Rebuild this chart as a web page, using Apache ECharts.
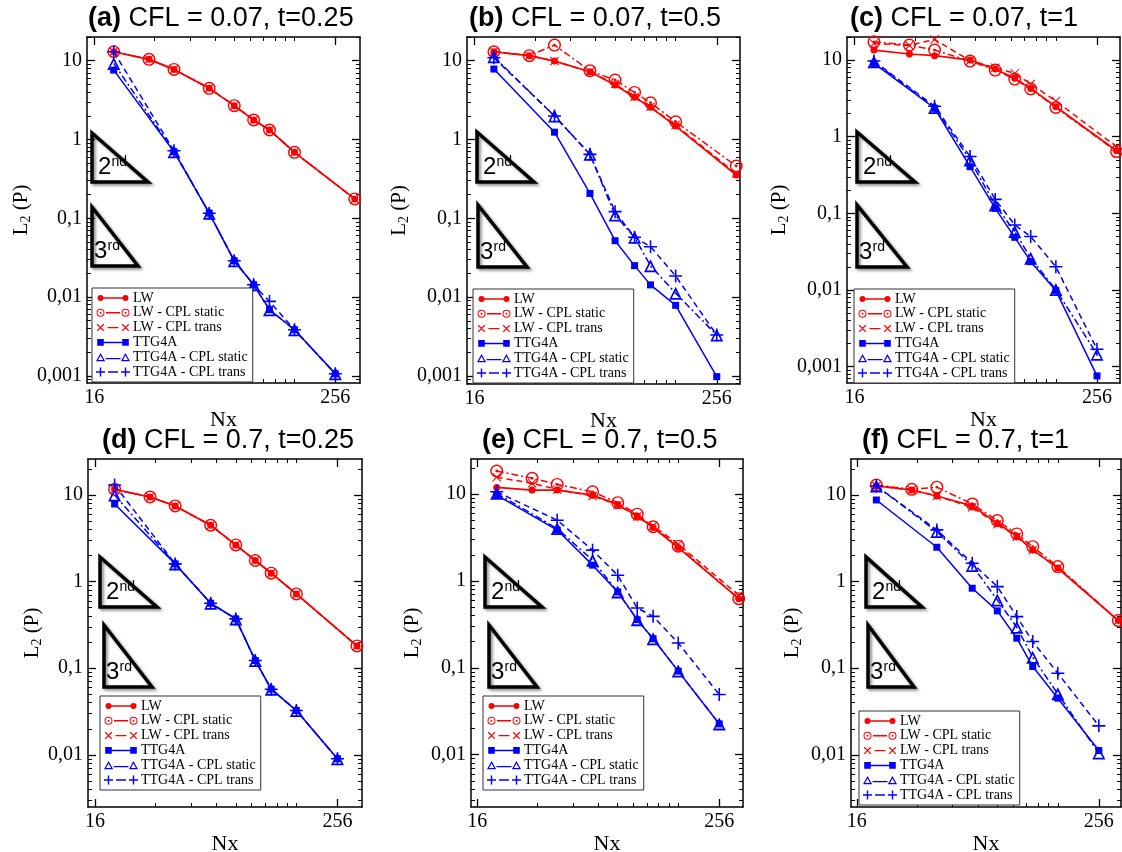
<!DOCTYPE html>
<html><head><meta charset="utf-8">
<script src="https://cdn.jsdelivr.net/npm/echarts@6/dist/echarts.min.js"></script>
<style>html,body{margin:0;padding:0;background:#fff}#c{width:1122px;height:852px}</style>
</head><body><div id="c"></div>
<script>
// ---------------- DATA ----------------
const NX_LW  = [20, 30, 40, 60, 80, 100, 120, 160, 320];
const NX_TTG = [20, 40, 60, 80, 100, 120, 160, 256];
const SERIES_NAMES = ['LW', 'LW - CPL static', 'LW - CPL trans', 'TTG4A', 'TTG4A - CPL static', 'TTG4A - CPL trans'];
const PANEL_TAGS = ['(a)', '(b)', '(c)', '(d)', '(e)', '(f)'];
const PANEL_TITLES = ['CFL = 0.07, t=0.25', 'CFL = 0.07, t=0.5', 'CFL = 0.07, t=1',
                      'CFL = 0.7, t=0.25', 'CFL = 0.7, t=0.5', 'CFL = 0.7, t=1'];
const X_TICKS = [16, 256];
const X_MINOR_TICKS = [32, 48, 64, 80, 96, 112, 128, 144, 160];
const Y_TICKS = [0.001, 0.01, 0.1, 1, 10];
const Y_TICK_LABELS = ['0,001', '0,01', '0,1', '1', '10'];
const Y_MINOR_TICKS = [0.0002,0.0003,0.0004,0.0005,0.0006,0.0007,0.0008,0.0009,
  0.002,0.003,0.004,0.005,0.006,0.007,0.008,0.009,
  0.02,0.03,0.04,0.05,0.06,0.07,0.08,0.09,
  0.2,0.3,0.4,0.5,0.6,0.7,0.8,0.9,
  2,3,4,5,6,7,8,9, 20,30];
const X_MIN = [14.7, 14.7, 14.7, 14.75, 14.9, 14.96];
const X_MAX = [340, 334, 333, 339, 336, 330];
const Y_MIN = [0.00081, 0.00079, 0.00061, 0.0025, 0.0025, 0.0025];
const Y_MAX = [20, 20, 20, 26, 25.3, 26];

// panel (a) CFL=0.07 t=0.25
const a_LW    = [13.0, 10.4, 7.76, 4.46, 2.69, 1.77, 1.32, 0.687, 0.176];
const a_LWs   = [13.0, 10.4, 7.76, 4.46, 2.69, 1.77, 1.32, 0.687, 0.176];
const a_LWt   = [13.0, 10.4, 7.76, 4.46, 2.69, 1.77, 1.32, 0.687, 0.176];
const a_TTG   = [7.6, 0.70, 0.116, 0.0288, 0.0143, 0.0069, 0.00384, 0.00106];
const a_TTGs  = [9.25, 0.70, 0.116, 0.0288, 0.0143, 0.0069, 0.00384, 0.00106];
const a_TTGt  = [13.0, 0.72, 0.116, 0.0288, 0.0143, 0.0088, 0.00384, 0.00106];
// panel (b) CFL=0.07 t=0.5
const b_LW    = [13.0, 11.6, 9.9, 7.25, 4.91, 3.43, 2.56, 1.48, 0.355];
const b_LWs   = [13.0, 11.6, 15.8, 7.47, 5.69, 3.96, 2.93, 1.68, 0.461];
const b_LWt   = [13.0, 11.6, 9.9, 7.25, 5.06, 3.49, 2.6, 1.53, 0.37];
const b_TTG   = [7.84, 1.24, 0.207, 0.052, 0.0251, 0.0143, 0.00787, 0.00098];
const b_TTGs  = [11.2, 1.99, 0.648, 0.110, 0.0574, 0.025, 0.0112, 0.0033];
const b_TTGt  = [10.9, 1.99, 0.648, 0.1216, 0.0574, 0.0437, 0.0185, 0.0033];
// panel (c) CFL=0.07 t=1
const c_LW    = [13.5, 12.0, 11.4, 10.0, 7.63, 5.77, 4.27, 2.46, 0.656];
const c_LWs   = [17.3, 15.7, 13.5, 9.7, 7.4, 5.65, 4.2, 2.41, 0.64];
const c_LWt   = [16.5, 15.5, 18.6, 9.8, 7.94, 6.7, 4.87, 2.92, 0.74];
const c_TTG   = [9.05, 2.35, 0.406, 0.116, 0.0486, 0.0234, 0.0098, 0.000755];
const c_TTGs  = [9.5, 2.4, 0.497, 0.128, 0.0577, 0.0259, 0.0101, 0.00145];
const c_TTGt  = [9.7, 2.5, 0.55, 0.152, 0.0705, 0.0497, 0.0201, 0.00168];
// panel (d) CFL=0.7 t=0.25
const d_LW    = [11.6, 9.48, 7.47, 4.47, 2.65, 1.75, 1.25, 0.72, 0.181];
const d_LWs   = [11.6, 9.48, 7.47, 4.47, 2.65, 1.75, 1.25, 0.72, 0.181];
const d_LWt   = [11.6, 9.48, 7.47, 4.47, 2.65, 1.75, 1.25, 0.72, 0.181];
const d_TTG   = [7.87, 1.6, 0.562, 0.371, 0.1226, 0.0573, 0.0325, 0.009];
const d_TTGs  = [10.0, 1.6, 0.562, 0.371, 0.1226, 0.0573, 0.0325, 0.009];
const d_TTGt  = [13.0, 1.6, 0.562, 0.371, 0.1226, 0.0573, 0.0325, 0.009];
// panel (e) CFL=0.7 t=0.5
const e_LW    = [11.9, 11.1, 11.1, 9.7, 7.6, 5.57, 4.12, 2.42, 0.625];
const e_LWs   = [18.4, 15.2, 12.9, 10.6, 7.95, 5.87, 4.2, 2.51, 0.625];
const e_LWt   = [15.6, 13.3, 11.3, 9.5, 7.5, 5.5, 4.3, 2.65, 0.685];
const e_TTG   = [9.7, 3.85, 1.52, 0.747, 0.358, 0.216, 0.0916, 0.0226];
const e_TTGs  = [10.2, 4.0, 1.73, 0.747, 0.358, 0.216, 0.0916, 0.0226];
const e_TTGt  = [10.6, 5.0, 2.26, 1.16, 0.488, 0.391, 0.193, 0.0492];
// panel (f) CFL=0.7 t=1
const f_LW    = [12.7, 11.4, 9.73, 7.47, 4.71, 3.36, 2.32, 1.43, 0.355];
const f_LWs   = [13.0, 11.6, 12.3, 7.87, 5.06, 3.55, 2.53, 1.49, 0.355];
const f_LWt   = [12.7, 11.4, 9.73, 7.2, 4.6, 3.3, 2.32, 1.43, 0.355];
const f_TTG   = [8.75, 2.49, 0.838, 0.459, 0.222, 0.1045, 0.0451, 0.0112];
const f_TTGs  = [12.7, 3.78, 1.53, 0.614, 0.297, 0.134, 0.0506, 0.0105];
const f_TTGt  = [12.7, 3.95, 1.63, 0.875, 0.394, 0.203, 0.0875, 0.0216];

const PANEL_DATA = [
  [a_LW, a_LWs, a_LWt, a_TTG, a_TTGs, a_TTGt],
  [b_LW, b_LWs, b_LWt, b_TTG, b_TTGs, b_TTGt],
  [c_LW, c_LWs, c_LWt, c_TTG, c_TTGs, c_TTGt],
  [d_LW, d_LWs, d_LWt, d_TTG, d_TTGs, d_TTGt],
  [e_LW, e_LWs, e_LWt, e_TTG, e_TTGs, e_TTGt],
  [f_LW, f_LWs, f_LWt, f_TTG, f_TTGs, f_TTGt]
];

// ---------------- LAYOUT / STYLE ----------------
const GRIDS = [ // left, top, width, height
  [87, 37, 273, 346], [467, 37, 273, 347], [847, 37, 273, 346],
  [88, 459, 274, 348], [471, 459, 272, 348], [851, 459, 270, 348]
];
const Y_NAME_GAP = [54, 56, 56, 44, 47, 47];
const TITLE_POS = [[88, 5], [469, 5], [850, 5], [102, 427], [482, 427], [862, 427]];
const LEGEND_POS = [[92, 288], [473, 289], [854, 289], [100, 696], [483, 696], [859, 711]];
const TRI2 = [[92,133,182,148],[477,132,182,534],[857,132,182,915],[100,557,607,157],[485,557,607,542],[866,557,607,922]];
const TRI3 = [[92,207,266,138],[478,205,267,527],[857,205,267,907],[104,625,687,152],[489,625,687,537],[868,625,687,914]];

const RED = '#ff0000', BLUE = '#0000ff';
const SERIF = '"Liberation Serif", "Times New Roman", serif';
const SANS = '"Liberation Sans", Arial, sans-serif';
const SYM_RING_DOT = 'path://M10,0A10,10,0,1,1,-10,0A10,10,0,1,1,10,0ZM7.8,0A7.8,7.8,0,1,0,-7.8,0A7.8,7.8,0,1,0,7.8,0ZM2.2,0A2.2,2.2,0,1,1,-2.2,0A2.2,2.2,0,1,1,2.2,0Z';
const SYM_X = 'path://M-8.9,-10.6L10.6,8.9L8.9,10.6L-10.6,-8.9ZM-8.9,10.6L-10.6,8.9L8.9,-10.6L10.6,-8.9Z';
const SYM_PLUS = 'path://M-10,-1.2L10,-1.2L10,1.2L-10,1.2ZM-1.2,-10L1.2,-10L1.2,10L-1.2,10Z';
const SYM_TRI_OPEN = 'path://M0,-10L10,8L-10,8ZM0,-4.6L-6,5.5L6,5.5Z';
const DASHDOT = [7, 3, 2, 3];
const DASHED = [6, 4];
const SERIES_STYLE = [
  {color: RED,  symbol: 'circle',     size: 7,  line: 'solid',  lw: 1.7},
  {color: RED,  symbol: SYM_RING_DOT, size: 13, line: DASHDOT,  lw: 1.5},
  {color: RED,  symbol: SYM_X,        size: 9,  line: DASHED,   lw: 1.5},
  {color: BLUE, symbol: 'rect',       size: 7,  line: 'solid',  lw: 1.5},
  {color: BLUE, symbol: SYM_TRI_OPEN, size: 13, line: DASHDOT,  lw: 1.5},
  {color: BLUE, symbol: SYM_PLUS,     size: 13, line: DASHED,   lw: 1.5}
];

// ---- legend icon shapes (symbol - line - symbol), drawn in a 34 x 10 box ----
const f2 = v => (Math.round(v * 100) / 100);
function pCircle(cx, cy, r, sw) { return `M${f2(cx + r)},${cy}A${r},${r},0,1,${sw},${f2(cx - r)},${cy}A${r},${r},0,1,${sw},${f2(cx + r)},${cy}Z`; }
function pRect(x0, y0, x1, y1) { return `M${f2(x0)},${f2(y0)}L${f2(x1)},${f2(y0)}L${f2(x1)},${f2(y1)}L${f2(x0)},${f2(y1)}Z`; }
function pX(cx, cy, a, w) {
  const d = w * 0.354;
  return `M${f2(cx - a + d)},${f2(cy - a - d)}L${f2(cx + a + d)},${f2(cy + a - d)}L${f2(cx + a - d)},${f2(cy + a + d)}L${f2(cx - a - d)},${f2(cy - a + d)}Z` +
         `M${f2(cx - a + d)},${f2(cy + a + d)}L${f2(cx - a - d)},${f2(cy + a - d)}L${f2(cx + a - d)},${f2(cy - a - d)}L${f2(cx + a + d)},${f2(cy - a + d)}Z`;
}
function pPlus(cx, cy, a, h) { return pRect(cx - a, cy - h, cx + a, cy + h) + pRect(cx - h, cy - a, cx + h, cy + a); }
function pTri(cx, cy, a, k) {
  const o = [[cx, cy - a], [cx + a, cy + 0.8 * a], [cx - a, cy + 0.8 * a]];
  const ic = [cx, cy + 0.21 * a];
  const inn = o.map(q => [ic[0] + k * (q[0] - ic[0]), ic[1] + k * (q[1] - ic[1])]);
  return `M${f2(o[0][0])},${f2(o[0][1])}L${f2(o[1][0])},${f2(o[1][1])}L${f2(o[2][0])},${f2(o[2][1])}Z` +
         `M${f2(inn[0][0])},${f2(inn[0][1])}L${f2(inn[2][0])},${f2(inn[2][1])}L${f2(inn[1][0])},${f2(inn[1][1])}Z`;
}
const BOX = 'M0,0L0.01,0Z M34,10L33.99,10Z ';
const L1 = 4.5, L2 = 29.5, CY = 5;
const LEGEND_ICONS = [
  'path://' + BOX + pCircle(L1, CY, 3, 1) + pCircle(L2, CY, 3, 1) + pRect(L1, CY - 0.75, L2, CY + 0.75),
  'path://' + BOX + pCircle(L1, CY, 4, 1) + pCircle(L1, CY, 3, 0) + pCircle(L1, CY, 1, 1) +
                    pCircle(L2, CY, 4, 1) + pCircle(L2, CY, 3, 0) + pCircle(L2, CY, 1, 1) + pRect(L1 + 5.5, CY - 0.7, L2 - 5.5, CY + 0.7),
  'path://' + BOX + pX(L1, CY, 3.3, 1.3) + pX(L2, CY, 3.3, 1.3) + pRect(L1 + 7, CY - 0.7, L2 - 7, CY + 0.7),
  'path://' + BOX + pRect(L1 - 3.3, CY - 3.3, L1 + 3.3, CY + 3.3) + pRect(L2 - 3.3, CY - 3.3, L2 + 3.3, CY + 3.3) + pRect(L1, CY - 0.75, L2, CY + 0.75),
  'path://' + BOX + pTri(L1, CY + 0.3, 4.6, 0.55) + pTri(L2, CY + 0.3, 4.6, 0.55) + pRect(L1 + 5, CY + 0.7, L2 - 5, CY + 2.1),
  'path://' + BOX + pPlus(L1, CY, 4.5, 0.7) + pPlus(L2, CY, 4.5, 0.7) + pRect(L1 + 7.5, CY - 0.7, L2 - 7.5, CY + 0.7)
];

function yLabel(v) {
  for (let i = 0; i < Y_TICKS.length; i++) {
    if (Math.abs(Math.log10(v) - Math.log10(Y_TICKS[i])) < 0.01) return Y_TICK_LABELS[i];
  }
  return '';
}

const grid = [], xAxis = [], yAxis = [], series = [], title = [], legend = [], graphic = [];

for (let p = 0; p < 6; p++) {
  const g = GRIDS[p];
  grid.push({left: g[0], top: g[1], width: g[2], height: g[3], outerBoundsMode: 'none', containLabel: false});
  const baseX = {type: 'log', logBase: 10, gridIndex: p, min: X_MIN[p], max: X_MAX[p], splitLine: {show: false}, minorTick: {show: false}, minorSplitLine: {show: false}};
  const baseY = {type: 'log', logBase: 10, gridIndex: p, min: Y_MIN[p], max: Y_MAX[p], splitLine: {show: false}, minorTick: {show: false}, minorSplitLine: {show: false}};
  const lineOn = {show: true, onZero: false, lineStyle: {color: '#000', width: 1.5}};
  const lineOff = {show: false, onZero: false};
  const majTickX = {show: true, inside: true, length: 8, customValues: X_TICKS, lineStyle: {color: '#000', width: 1.3}};
  const minTickX = {show: true, inside: true, length: 4, customValues: X_MINOR_TICKS, lineStyle: {color: '#000', width: 1}};
  const majTickY = {show: true, inside: true, length: 8, customValues: Y_TICKS, lineStyle: {color: '#000', width: 1.3}};
  const minTickY = {show: true, inside: true, length: 4, customValues: Y_MINOR_TICKS, lineStyle: {color: '#000', width: 1}};
  // x axes
  xAxis.push(Object.assign({}, baseX, {
    position: 'bottom', axisLine: lineOn, axisTick: majTickX,
    axisLabel: {show: true, customValues: X_TICKS, margin: 5, fontFamily: SERIF, fontSize: 20, color: '#000',
      formatter: v => String(Math.round(v))},
    name: 'Nx', nameLocation: 'middle', nameGap: 18,
    nameTextStyle: {fontFamily: SERIF, fontSize: 22, color: '#000'}
  }));
  xAxis.push(Object.assign({}, baseX, {position: 'top', axisLine: lineOn, axisTick: majTickX, axisLabel: {show: false}}));
  xAxis.push(Object.assign({}, baseX, {position: 'bottom', axisLine: lineOff, axisTick: minTickX, axisLabel: {show: false}}));
  xAxis.push(Object.assign({}, baseX, {position: 'top', axisLine: lineOff, axisTick: minTickX, axisLabel: {show: false}}));
  // y axes
  yAxis.push(Object.assign({}, baseY, {
    position: 'left', axisLine: lineOn, axisTick: majTickY,
    axisLabel: {show: true, customValues: Y_TICKS, margin: 5, fontFamily: SERIF, fontSize: 20, color: '#000', formatter: yLabel},
    name: '{n|L}{s|2}{n| (P)}', nameLocation: 'middle', nameGap: Y_NAME_GAP[p], nameRotate: 90,
    nameTextStyle: {fontFamily: SERIF, fontSize: 21, color: '#000',
      rich: {n: {fontFamily: SERIF, fontSize: 21, color: '#000', lineHeight: 24},
             s: {fontFamily: SERIF, fontSize: 14, color: '#000', lineHeight: 14, verticalAlign: 'bottom'}}}
  }));
  yAxis.push(Object.assign({}, baseY, {position: 'right', axisLine: lineOn, axisTick: majTickY, axisLabel: {show: false}}));
  yAxis.push(Object.assign({}, baseY, {position: 'left', axisLine: lineOff, axisTick: minTickY, axisLabel: {show: false}}));
  yAxis.push(Object.assign({}, baseY, {position: 'right', axisLine: lineOff, axisTick: minTickY, axisLabel: {show: false}}));

  // series
  for (let s = 0; s < 6; s++) {
    const st = SERIES_STYLE[s];
    const nx = s < 3 ? NX_LW : NX_TTG;
    const vals = PANEL_DATA[p][s];
    series.push({
      name: SERIES_NAMES[s], type: 'line', xAxisIndex: p * 4, yAxisIndex: p * 4,
      data: nx.map((x, i) => [x, vals[i]]),
      symbol: st.symbol, symbolSize: st.size, showSymbol: true, showAllSymbol: true,
      lineStyle: {color: st.color, width: st.lw, type: st.line},
      itemStyle: {color: st.color, borderWidth: 0},
      emphasis: {disabled: true}, clip: true, z: 2 + s
    });
  }

  title.push({
    text: '{b|' + PANEL_TAGS[p] + '} ' + PANEL_TITLES[p],
    left: TITLE_POS[p][0], top: TITLE_POS[p][1], padding: 0,
    textStyle: {fontFamily: SANS, fontSize: 27, fontWeight: 'normal', color: '#000',
      rich: {b: {fontFamily: SANS, fontSize: 27, fontWeight: 'bold', color: '#000'}}}
  });

  legend.push({
    orient: 'vertical', left: LEGEND_POS[p][0], top: LEGEND_POS[p][1],
    itemWidth: 34, itemHeight: 10, itemGap: 0.8, padding: [3, 5, 3, 4],
    borderColor: '#333', borderWidth: 1, backgroundColor: '#fff', borderRadius: 0,
    itemStyle: {borderWidth: 0},
    textStyle: {fontFamily: SERIF, fontSize: 14, color: '#000', lineHeight: 13, padding: [0, 0, 0, -2]},
    data: SERIES_NAMES.map((n, i) => ({name: n, icon: LEGEND_ICONS[i]})),
    selectedMode: false, z: 20
  });

  // order-of-accuracy triangles
  [[TRI2[p], '2', 'nd', 6], [TRI3[p], '3', 'rd', 2]].forEach(([t, num, sup, dx]) => {
    const pts = [[t[0], t[1]], [t[0], t[2]], [t[3], t[2]]];
    graphic.push({type: 'polygon', z: 30, shape: {points: pts},
      style: {fill: null, stroke: '#000', lineWidth: 3.5, shadowBlur: 3, shadowColor: 'rgba(0,0,0,0.45)', shadowOffsetX: 2, shadowOffsetY: 2}});
    graphic.push({type: 'text', z: 31, style: {text: num, x: t[0] + dx, y: t[2] - 14.5, fill: '#000',
      font: '24px ' + SANS, verticalAlign: 'middle', align: 'left'}});
    graphic.push({type: 'text', z: 31, style: {text: sup, x: t[0] + dx + 13.5, y: t[2] - 20, fill: '#000',
      font: '14px ' + SANS, verticalAlign: 'middle', align: 'left'}});
  });
}

const chart = echarts.init(document.getElementById('c'), null, {renderer: 'canvas'});
chart.setOption({
  animation: false, backgroundColor: '#fff',
  textStyle: {fontFamily: SERIF},
  grid, xAxis, yAxis, series, title, legend, graphic
});
</script></body></html>
